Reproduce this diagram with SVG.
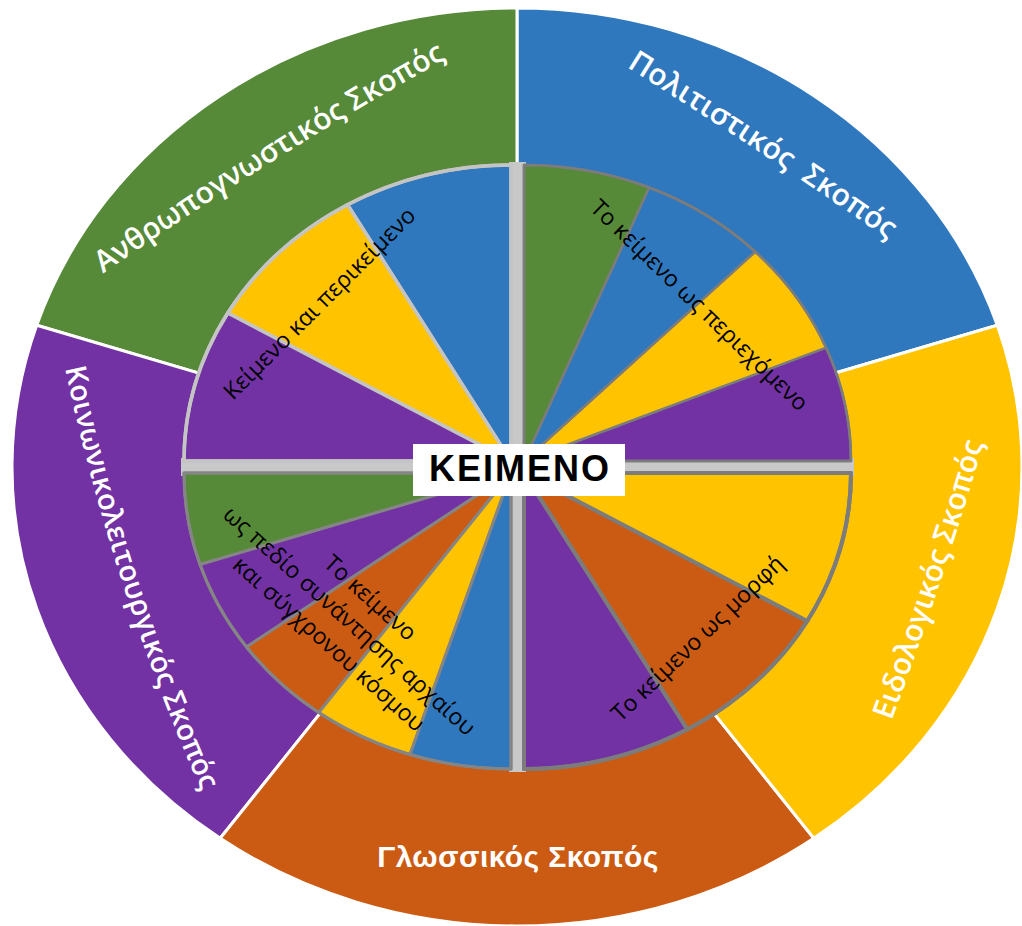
<svg xmlns="http://www.w3.org/2000/svg" width="1022" height="926" viewBox="0 0 1022 926">
<defs>
<style>
.g{fill:#578a38}.b{fill:#2f78bd}.y{fill:#ffc300}.o{fill:#cb5b13}.p{fill:#7232a3}
#outer path{stroke:#ffffff;stroke-width:3;stroke-linejoin:round}
.lbl{font-family:"Open Sans","Noto Sans",sans-serif;font-weight:600;font-size:30px;fill:#ffffff}
.in{font-family:"Open Sans","Noto Sans",sans-serif;font-size:23px;fill:#000000;text-anchor:middle}
#q-tl path{stroke:#c4c4c4;stroke-width:3.5;stroke-linejoin:round}
#q-tr path{stroke:#7c7c7c;stroke-width:2.5;stroke-linejoin:round}
#q-br path{stroke:#7c7c7c;stroke-width:4;stroke-linejoin:round}
#q-bl path{stroke:#858585;stroke-width:3;stroke-linejoin:round}
.olL{fill:none;stroke:#c6c6c6;stroke-width:6;stroke-linejoin:round}
.olD{fill:none;stroke:#7f7f7f;stroke-width:6;stroke-linejoin:round}
.olM{fill:none;stroke:#8e8e8e;stroke-width:5;stroke-linejoin:round}
</style>
<path id="arc1" d="M56,307 Q268,154 497,31"/>
<path id="arc2" d="M555.5,23.5 Q761.3,147.3 955.9,287.9"/>
<path id="arc3" d="M865,790 Q945.7,584.9 1003.6,372.3"/>
<path id="arc5" d="M58,334 Q108,588 216,823"/>
</defs>

<g id="outer">
<path id="sector-politistikos" class="b" d="M517,467 L997.3,325.2 A505,459 0 0 0 517,8 Z"/>
<path id="sector-anthropognostikos" class="g" d="M517,467 L517,8 A505,459 0 0 0 36.7,325.2 Z"/>
<path id="sector-koinonikoleitourgikos" class="p" d="M517,467 L36.7,325.2 A505,459 0 0 0 220.2,838.3 Z"/>
<path id="sector-glossikos" class="o" d="M517,467 L220.2,838.3 A505,459 0 0 0 813.8,838.3 Z"/>
<path id="sector-eidologikos" class="y" d="M517,467 L813.8,838.3 A505,459 0 0 0 997.3,325.2 Z"/>
</g>

<g id="outer-labels">
<g id="label-anthropognostikos"><text class="lbl"><textPath href="#arc1" startOffset="50%" text-anchor="middle">Ανθρωπογνωστικός Σκοπός</textPath></text></g>
<g id="label-politistikos"><text class="lbl" xml:space="preserve"><textPath href="#arc2" startOffset="50%" text-anchor="middle">Πολιτιστικός  Σκοπός</textPath></text></g>
<g id="label-eidologikos"><text class="lbl"><textPath href="#arc3" startOffset="50%" text-anchor="middle">Ειδολογικός Σκοπός</textPath></text></g>
<g id="label-koinonikoleitourgikos"><text class="lbl" style="font-size:29px"><textPath href="#arc5" startOffset="50%" text-anchor="middle">Κοινωνικολειτουργικός Σκοπός</textPath></text></g>
<g id="label-glossikos"><text x="518" y="867" text-anchor="middle" style="font-family:'Liberation Sans',Arial,sans-serif;font-weight:bold;font-size:30px;fill:#ffffff;letter-spacing:0.4px">Γλωσσικός Σκοπός</text></g>
</g>

<g id="inner">
<rect x="509" y="162" width="17" height="610" fill="#c8c8c8"/>
<rect x="181" y="458" width="673" height="18" fill="#c8c8c8"/>

<g id="q-tl">
<path class="b" d="M511,461 L511,165 A327,296 0 0 0 347.5,204.7 Z"/>
<path class="y" d="M511,461 L347.5,204.7 A327,296 0 0 0 227.8,313 Z"/>
<path class="p" d="M511,461 L227.8,313 A327,296 0 0 0 184,461 Z"/>
<path class="olL" d="M511,461 L184,461 A327,296 0 0 1 511,165 Z"/>
</g>

<g id="q-tr">
<path class="p" d="M524,461 L851,461 A327,296 0 0 0 826.1,347.7 Z"/>
<path class="y" d="M524,461 L826.1,347.7 A327,296 0 0 0 755.2,251.7 Z"/>
<path class="b" d="M524,461 L755.2,251.7 A327,296 0 0 0 649.1,187.5 Z"/>
<path class="g" d="M524,461 L649.1,187.5 A327,296 0 0 0 524,165 Z"/>
<path class="olL" d="M524,461 L524,165 A327,296 0 0 1 851,461 Z"/>
</g>

<g id="q-br">
<path class="p" d="M524,473 L524,769 A327,296 0 0 0 687.5,729.3 Z"/>
<path class="o" d="M524,473 L687.5,729.3 A327,296 0 0 0 807.2,621 Z"/>
<path class="y" d="M524,473 L807.2,621 A327,296 0 0 0 851,473 Z"/>
<path class="olD" d="M524,473 L851,473 A327,296 0 0 1 524,769 Z"/>
</g>

<g id="q-bl">
<path class="g" d="M511,473 L184,473 A327,296 0 0 0 200,564.5 Z"/>
<path class="p" d="M511,473 L200,564.5 A327,296 0 0 0 246.5,647 Z"/>
<path class="o" d="M511,473 L246.5,647 A327,296 0 0 0 318.8,712.5 Z"/>
<path class="y" d="M511,473 L318.8,712.5 A327,296 0 0 0 410,754.5 Z"/>
<path class="b" d="M511,473 L410,754.5 A327,296 0 0 0 511,769 Z"/>
<path class="olM" d="M511,473 L511,769 A327,296 0 0 1 184,473 Z"/>
</g>
</g>

<g id="inner-labels">
<g id="label-perikeimeno"><text class="in" transform="translate(325,309) rotate(-45)">Κείμενο και περικείμενο</text></g>
<g id="label-periexomeno"><text class="in" transform="translate(694,311) rotate(44)">Το κείμενο ως περιεχόμενο</text></g>
<g id="label-morfi"><text class="in" transform="translate(703,644) rotate(-43.7)">Το κείμενο ως μορφή</text></g>
<g id="label-pedio"><text class="in" transform="translate(349,621.5) rotate(42)"><tspan x="0" y="-24">Το κείμενο</tspan><tspan x="0" y="7">ως πεδίο συνάντησης αρχαίου</tspan><tspan x="0" y="38">και σύγχρονου κόσμου</tspan></text></g>
</g>

<g id="center">
<rect x="413" y="444" width="212" height="52" fill="#ffffff"/>
<text x="520" y="481" text-anchor="middle" style="font-family:'Liberation Sans',Arial,sans-serif;font-weight:bold;font-size:36px;fill:#000000;letter-spacing:2px">ΚΕΙΜΕΝΟ</text>
</g>
</svg>
